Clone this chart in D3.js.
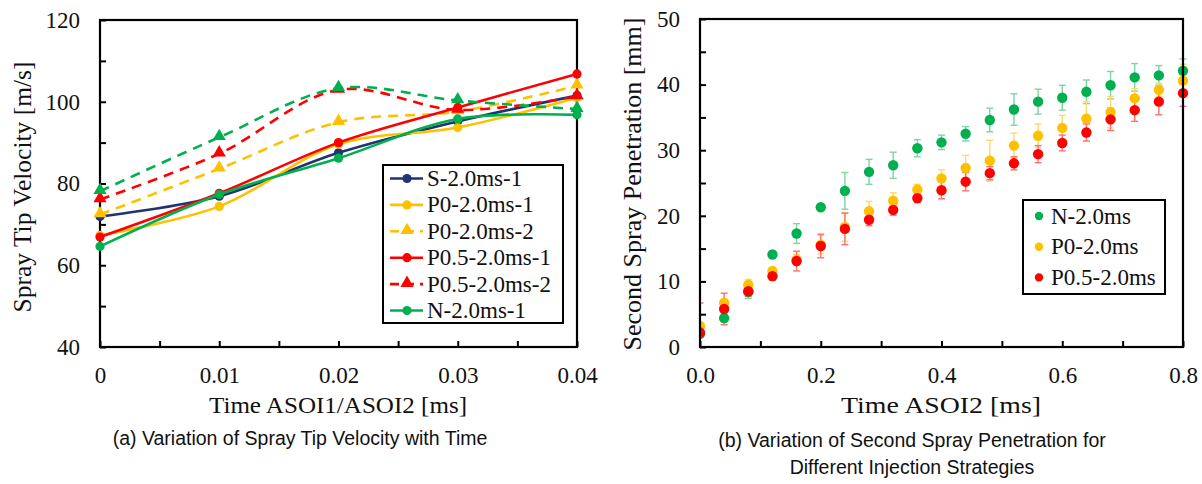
<!DOCTYPE html>
<html>
<head>
<meta charset="utf-8">
<script src="https://cdn.jsdelivr.net/npm/d3@7"></script>
<style>
  body { margin: 0; background: #fff; }
  svg { display: block; }
</style>
</head>
<body>
<div id="fig"></div>
<script>
// ---- data: (a) spray tip velocity ----
var timeA = [0, 0.01, 0.02, 0.03, 0.04];
var velNames = ["S-2.0ms-1", "P0-2.0ms-1", "P0-2.0ms-2", "P0.5-2.0ms-1", "P0.5-2.0ms-2", "N-2.0ms-1", "N-2.0ms-2"];
var velS1   = [71.9, 76.9, 87.5, 95.2, 101.5];
var velP01  = [67.3, 74.4, 89.6, 93.7, 101.0];
var velP02  = [72.4, 83.6, 95.0, 97.6, 103.9];
var velP051 = [66.9, 77.6, 90.0, 98.6, 106.8];
var velP052 = [76.1, 87.3, 102.9, 98.0, 101.3];
var velN1   = [64.6, 77.3, 86.2, 95.8, 96.8];
var velN2   = [78.1, 91.3, 103.3, 100.3, 98.2];
var velTicks = [40, 60, 80, 100, 120];
var timeATicks = [0, 0.01, 0.02, 0.03, 0.04];

// ---- data: (b) second spray penetration ----
var timeB = [0, 0.04, 0.08, 0.12, 0.16, 0.2, 0.24, 0.28, 0.32, 0.36, 0.4,
             0.44, 0.48, 0.52, 0.56, 0.6, 0.64, 0.68, 0.72, 0.76, 0.8];
var penNames = ["N-2.0ms", "P0-2.0ms", "P0.5-2.0ms"];
var penN   = [2.0, 4.4, 8.4, 14.1, 17.3, 21.3, 23.8, 26.7, 27.7, 30.3, 31.2,
              32.5, 34.6, 36.2, 37.4, 38.0, 38.9, 39.9, 41.1, 41.4, 42.1];
var penNErr = [0.5, 0.6, 1.0, 0.5, 1.5, 0.4, 2.8, 1.9, 2.0, 1.3, 1.1,
               1.1, 1.8, 2.4, 1.9, 1.9, 1.8, 2.1, 2.1, 1.5, 1.8];
var penP0  = [3.2, 6.7, 9.5, 11.6, 13.3, 15.6, 18.3, 20.7, 22.3, 24.0, 25.7,
              27.3, 28.4, 30.7, 32.2, 33.4, 34.8, 35.8, 37.9, 39.2, 40.6];
var penP0Err = [0.3, 0.6, 0.8, 0.5, 0.8, 1.4, 2.2, 1.5, 1.2, 0.8, 1.3,
                1.9, 3.1, 1.9, 1.8, 1.9, 2.6, 2.4, 1.5, 1.0, 2.5];
var penP05 = [2.2, 5.8, 8.5, 10.8, 13.1, 15.4, 18.0, 19.4, 20.9, 22.7, 23.9,
              25.2, 26.5, 28.0, 29.4, 31.1, 32.7, 34.7, 36.1, 37.4, 38.7];
var penP05Err = [4.5, 2.4, 0.8, 0.6, 1.5, 1.8, 2.4, 0.9, 0.8, 0.7, 1.3,
                 1.4, 1.0, 1.0, 1.3, 1.2, 1.3, 1.7, 1.7, 2.0, 2.0];
var penTicks = [0, 10, 20, 30, 40, 50];
var timeBTicks = [0, 0.2, 0.4, 0.6, 0.8];

var W = 1202, H = 484;
var serif = "'Liberation Serif', 'Times New Roman', serif",
  sans = "'Liberation Sans', Arial, sans-serif";

var svg = d3.select('#fig').append('svg')
  .attr('width', W).attr('height', H);

// ================= chart (a) =================
var pa = {left: 100, top: 20, right: 577, bottom: 347};

var xA = d3.scaleLinear().domain([0, 0.04]).range([pa.left, pa.right]);
var yA = d3.scaleLinear().domain([40, 120]).range([pa.bottom, pa.top]);

var velSeries = [
  {name: velNames[0], values: velS1,   color: '#1f3470', dash: false, mark: 'circle'},
  {name: velNames[1], values: velP01,  color: '#ffc000', dash: false, mark: 'circle'},
  {name: velNames[2], values: velP02,  color: '#ffc000', dash: true,  mark: 'tri'},
  {name: velNames[3], values: velP051, color: '#ff0000', dash: false, mark: 'circle'},
  {name: velNames[4], values: velP052, color: '#ff0000', dash: true,  mark: 'tri'},
  {name: velNames[5], values: velN1,   color: '#00b050', dash: false, mark: 'circle'},
  {name: velNames[6], values: velN2,   color: '#00b050', dash: true,  mark: 'tri', hideLegend: true}
];

function drawAxes(g, x, y, xTicks, yTicks, xMinor, yMinor, xFmt, box) {
  // minor ticks (inward)
  g.append('g').attr('transform', 'translate(0,' + box.bottom + ')')
    .call(d3.axisBottom(x).tickValues(xMinor).tickSizeInner(-6).tickSizeOuter(0).tickFormat(''))
    .call(function(s) { s.select('.domain').remove(); s.selectAll('line').attr('stroke-width', 2); });
  g.append('g').attr('transform', 'translate(' + box.left + ',0)')
    .call(d3.axisLeft(y).tickValues(yMinor).tickSizeInner(-6).tickSizeOuter(0).tickFormat(''))
    .call(function(s) { s.select('.domain').remove(); s.selectAll('line').attr('stroke-width', 2); });

  var gx = g.append('g').attr('transform', 'translate(0,' + box.bottom + ')')
    .call(d3.axisBottom(x).tickValues(xTicks).tickSizeInner(-6).tickSizeOuter(0)
      .tickPadding(20).tickFormat(xFmt));
  gx.select('.domain').remove();
  gx.selectAll('line').attr('stroke-width', 2);
  gx.selectAll('text').attr('font-family', serif).attr('font-size', 23).attr('fill', '#111');

  var gy = g.append('g').attr('transform', 'translate(' + box.left + ',0)')
    .call(d3.axisLeft(y).tickValues(yTicks).tickSizeInner(-6).tickSizeOuter(0).tickPadding(20));
  gy.select('.domain').remove();
  gy.selectAll('line').attr('stroke-width', 2);
  gy.selectAll('text').attr('font-family', serif).attr('font-size', 23).attr('fill', '#111');

  // frame
  g.append('rect')
    .attr('x', box.left).attr('y', box.top)
    .attr('width', box.right - box.left).attr('height', box.bottom - box.top)
    .attr('fill', 'none').attr('stroke', '#000').attr('stroke-width', 2.2);
}

var gA = svg.append('g');
drawAxes(gA, xA, yA, timeATicks, velTicks,
  [0.005, 0.015, 0.025, 0.035], [50, 70, 90, 110],
  function(d) { return d === 0 ? '0' : d3.format('.2f')(d); }, pa);

var line = d3.line()
  .x(function(d) { return xA(d[0]); })
  .y(function(d) { return yA(d[1]); })
  .curve(d3.curveCatmullRom.alpha(0.5));

var tri = d3.symbol().type(d3.symbolTriangle).size(75);

velSeries.forEach(function(s) {
  var pts = timeA.map(function(t, i) { return [t, s.values[i]]; });
  gA.append('path')
    .attr('d', line(pts))
    .attr('fill', 'none')
    .attr('stroke', s.color)
    .attr('stroke-width', 2.6)
    .attr('stroke-dasharray', s.dash ? '10,7' : null);
  var m = gA.selectAll(null).data(pts).enter();
  if (s.mark === 'circle') {
    m.append('circle')
      .attr('cx', function(d) { return xA(d[0]); })
      .attr('cy', function(d) { return yA(d[1]); })
      .attr('r', 4.6).attr('fill', s.color);
  } else {
    m.append('path')
      .attr('d', tri)
      .attr('transform', function(d) { return 'translate(' + xA(d[0]) + ',' + (yA(d[1]) - 1) + ')'; })
      .attr('fill', s.color);
  }
});

// legend (a)
var legA = gA.append('g').attr('transform', 'translate(383,165)');
legA.append('rect').attr('width', 180).attr('height', 158)
  .attr('fill', '#fff').attr('stroke', '#000').attr('stroke-width', 2);
velSeries.filter(function(s) { return !s.hideLegend; }).forEach(function(s, i) {
  var yy = 13.5 + i * 26.4;
  legA.append('line').attr('x1', 7).attr('x2', 40).attr('y1', yy).attr('y2', yy)
    .attr('stroke', s.color).attr('stroke-width', 2.6)
    .attr('stroke-dasharray', s.dash ? '9,6' : null);
  if (s.mark === 'circle') {
    legA.append('circle').attr('cx', 24).attr('cy', yy).attr('r', 4.6).attr('fill', s.color);
  } else {
    legA.append('path').attr('d', tri).attr('transform', 'translate(24,' + (yy - 1) + ')').attr('fill', s.color);
  }
  legA.append('text').attr('x', 44).attr('y', yy + 7.5)
    .attr('font-family', serif).attr('font-size', 23).attr('fill', '#111')
    .text(s.name);
});

// titles (a)
gA.append('text').attr('transform', 'translate(31,187) rotate(-90)')
  .attr('text-anchor', 'middle').attr('font-family', serif).attr('font-size', 25.5).attr('fill', '#111')
  .text('Spray Tip Velocity [m/s]');
gA.append('text').attr('x', 338).attr('y', 413)
  .attr('text-anchor', 'middle').attr('font-family', serif).attr('font-size', 24).attr('fill', '#111')
  .attr('textLength', 258).attr('lengthAdjust', 'spacingAndGlyphs')
  .text('Time ASOI1/ASOI2 [ms]');
gA.append('text').attr('x', 300).attr('y', 445)
  .attr('text-anchor', 'middle').attr('font-family', sans).attr('font-size', 19.5).attr('fill', '#111')
  .text('(a) Variation of Spray Tip Velocity with Time');

// ================= chart (b) =================
var pb = {left: 700, top: 19, right: 1183, bottom: 347};
var xB = d3.scaleLinear().domain([0, 0.8]).range([pb.left, pb.right]);
var yB = d3.scaleLinear().domain([0, 50]).range([pb.bottom, pb.top]);

var gB = svg.append('g');

var penSeries = [
  {name: penNames[0], values: penN,   err: penNErr,   color: '#00b050', bar: '#7fd4a4'},
  {name: penNames[1], values: penP0,  err: penP0Err,  color: '#ffc000', bar: '#ffd966'},
  {name: penNames[2], values: penP05, err: penP05Err, color: '#ff0000', bar: '#ff7070'}
];

gB.append('clipPath').attr('id', 'clipB').append('rect')
  .attr('x', pb.left).attr('y', pb.top)
  .attr('width', pb.right - pb.left + 6).attr('height', pb.bottom - pb.top);

var plotB = gB.append('g').attr('clip-path', 'url(#clipB)');
penSeries.forEach(function(s) {
  var pts = timeB.map(function(t, i) { return {t: t, v: s.values[i], e: s.err[i]}; });
  var eb = plotB.append('g').attr('stroke', s.bar).attr('stroke-width', 1.4);
  pts.forEach(function(d) {
    var cx = xB(d.t), y1 = yB(d.v + d.e), y2 = yB(d.v - d.e);
    eb.append('line').attr('x1', cx).attr('x2', cx).attr('y1', y1).attr('y2', y2);
    eb.append('line').attr('x1', cx - 3.5).attr('x2', cx + 3.5).attr('y1', y1).attr('y2', y1);
    eb.append('line').attr('x1', cx - 3.5).attr('x2', cx + 3.5).attr('y1', y2).attr('y2', y2);
  });
});
penSeries.forEach(function(s) {
  plotB.selectAll(null).data(timeB).enter().append('circle')
    .attr('cx', function(t) { return xB(t); })
    .attr('cy', function(t, i) { return yB(s.values[i]); })
    .attr('r', 5.2).attr('fill', s.color);
});

drawAxes(gB, xB, yB, timeBTicks, penTicks,
  [0.1, 0.3, 0.5, 0.7], [5, 15, 25, 35, 45],
  d3.format('.1f'), pb);

// legend (b)
var legB = gB.append('g').attr('transform', 'translate(1023,200)');
legB.append('rect').attr('width', 142).attr('height', 94)
  .attr('fill', '#fff').attr('stroke', '#000').attr('stroke-width', 2);
penSeries.forEach(function(s, i) {
  var yy = 16 + i * 30.7;
  legB.append('circle').attr('cx', 16).attr('cy', yy).attr('r', 4.2).attr('fill', s.color);
  legB.append('text').attr('x', 28).attr('y', yy + 7.5)
    .attr('font-family', serif).attr('font-size', 23).attr('fill', '#111')
    .text(s.name);
});

// titles (b)
gB.append('text').attr('transform', 'translate(641,184) rotate(-90)')
  .attr('text-anchor', 'middle').attr('font-family', serif).attr('font-size', 26).attr('fill', '#111')
  .text('Second Spray Penetration [mm]');
gB.append('text').attr('x', 941).attr('y', 413)
  .attr('text-anchor', 'middle').attr('font-family', serif).attr('font-size', 24).attr('fill', '#111')
  .attr('textLength', 200).attr('lengthAdjust', 'spacingAndGlyphs')
  .text('Time ASOI2 [ms]');
gB.append('text').attr('x', 912).attr('y', 447)
  .attr('text-anchor', 'middle').attr('font-family', sans).attr('font-size', 19.5).attr('fill', '#111')
  .text('(b) Variation of Second Spray Penetration for');
gB.append('text').attr('x', 912).attr('y', 474)
  .attr('text-anchor', 'middle').attr('font-family', sans).attr('font-size', 19.5).attr('fill', '#111')
  .text('Different Injection Strategies');
</script>
</body>
</html>
